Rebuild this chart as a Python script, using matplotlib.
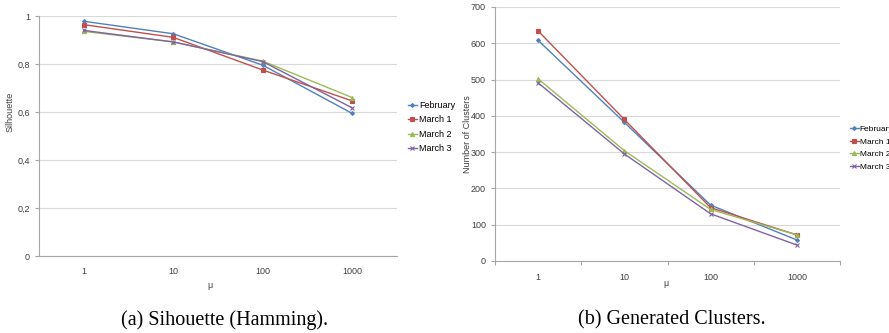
import matplotlib
matplotlib.use("Agg")
import matplotlib.pyplot as plt
from matplotlib.ticker import FixedLocator

# data
mu_labels = ["1", "10", "100", "1000"]
series_names = ["February", "March 1", "March 2", "March 3"]

silhouette_feb = [0.978, 0.926, 0.795, 0.594]
silhouette_mar1 = [0.964, 0.911, 0.775, 0.646]
silhouette_mar2 = [0.936, 0.892, 0.812, 0.660]
silhouette_mar3 = [0.940, 0.892, 0.810, 0.617]

clusters_feb = [608, 382, 154, 58]
clusters_mar1 = [634, 390, 147, 72]
clusters_mar2 = [502, 304, 142, 72]
clusters_mar3 = [491, 295, 130, 44]

sil_ticks = [0, 0.2, 0.4, 0.6, 0.8, 1.0]
sil_tick_labels = ["0", "0,2", "0,4", "0,6", "0,8", "1"]
clu_ticks = [0, 100, 200, 300, 400, 500, 600, 700]

colors = ["#4F81BD", "#C0504D", "#9BBB59", "#8064A2"]
markers = ["D", "s", "^", "x"]
msizes = [2.0, 2.8, 3.0, 3.0]

W, H = 889, 333
fig = plt.figure(figsize=(W / 100, H / 100), dpi=100)
plt.rcParams['font.family'] = ['Liberation Sans', 'DejaVu Sans']
tick_fs = 6.5


def px_axes(x0, x1, ytop, ybot):
    return fig.add_axes([x0 / W, (H - ybot) / H, (x1 - x0) / W, (ybot - ytop) / H])


def style(ax):
    for s in ["top", "right"]:
        ax.spines[s].set_visible(False)
    for s in ["left", "bottom"]:
        ax.spines[s].set_color("#A6A6A6")
        ax.spines[s].set_linewidth(0.8)
    ax.yaxis.grid(True, color="#D9D9D9", linewidth=0.8)
    ax.set_axisbelow(True)
    ax.tick_params(axis="both", labelsize=tick_fs, colors="#A6A6A6",
                   labelcolor="#404040", length=3, width=0.8)
    ax.set_xlim(-0.5, 3.5)


x = list(range(len(mu_labels)))

# (a) silhouette
ax1 = px_axes(39, 397, 16, 256)
for vals, name, c, m, ms in zip(
        [silhouette_feb, silhouette_mar1, silhouette_mar2, silhouette_mar3],
        series_names, colors, markers, msizes):
    ax1.plot(x, vals, color=c, marker=m, markersize=ms, linewidth=1.0,
             markeredgewidth=0.8, label=name)
style(ax1)
ax1.set_ylim(0, 1)
ax1.set_yticks(sil_ticks)
ax1.set_yticklabels(sil_tick_labels)
ax1.set_xticks(x)
ax1.set_xticklabels(mu_labels)
ax1.tick_params(axis="x", length=0, pad=8)
fig.text(210 / W, 1 - 285 / H, "μ", fontsize=tick_fs, ha="center", va="center", color="#404040")
fig.text(10 / W, 1 - 112 / H, "Silhouette", fontsize=tick_fs, rotation=90,
         ha="center", va="center", color="#404040")
ax1.legend(loc="center left", bbox_to_anchor=(403 / W, 1 - 127 / H),
           bbox_transform=fig.transFigure, frameon=False, fontsize=tick_fs,
           handlelength=1.1, handletextpad=0.2, labelspacing=0.6, borderpad=0)

# (b) generated clusters
ax2 = px_axes(495, 840, 7, 261)
for vals, name, c, m, ms in zip(
        [clusters_feb, clusters_mar1, clusters_mar2, clusters_mar3],
        series_names, colors, markers, msizes):
    ax2.plot(x, vals, color=c, marker=m, markersize=ms, linewidth=1.0,
             markeredgewidth=0.8, label=name)
style(ax2)
ax2.set_ylim(0, 700)
ax2.set_yticks(clu_ticks)
ax2.set_xticks(x)
ax2.set_xticklabels(mu_labels)
ax2.tick_params(axis="x", which="major", length=0, pad=9)
ax2.xaxis.set_minor_locator(FixedLocator([-0.5, 0.5, 1.5, 2.5, 3.5]))
ax2.tick_params(axis="x", which="minor", length=3, width=0.8, colors="#A6A6A6")
fig.text(666 / W, 1 - 283 / H, "μ", fontsize=tick_fs, ha="center", va="center", color="#404040")
fig.text(467 / W, 1 - 134 / H, "Number of Clusters", fontsize=tick_fs, rotation=90,
         ha="center", va="center", color="#404040")
ax2.legend(loc="center left", bbox_to_anchor=(846 / W, 1 - 148 / H),
           bbox_transform=fig.transFigure, frameon=False, fontsize=6,
           handlelength=1.0, handletextpad=0.15, labelspacing=0.6, borderpad=0)

# captions
fig.text(225 / W, 1 - 320 / H, "(a) Sihouette (Hamming).", fontsize=14.5,
         family="Liberation Serif", ha="center", va="center")
fig.text(672 / W, 1 - 320 / H, "(b) Generated Clusters.", fontsize=14.5,
         family="Liberation Serif", ha="center", va="center")

fig.savefig("out.png", dpi=100)
